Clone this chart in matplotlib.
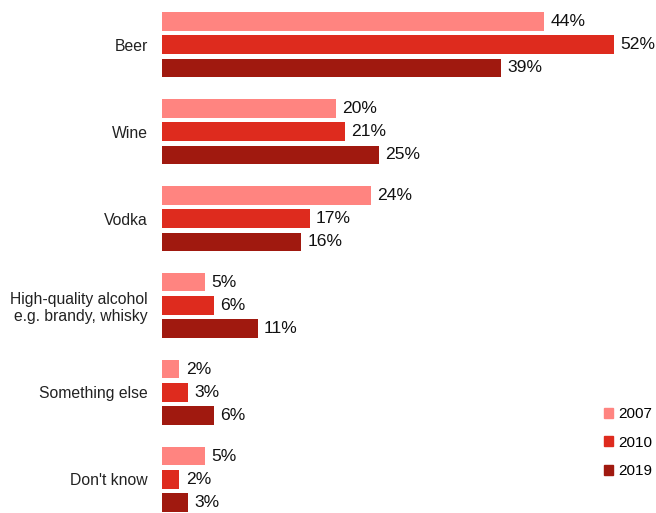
import numpy as np
import matplotlib.pyplot as plt
from matplotlib.patches import Patch

plt.rcParams['font.family'] = ['Liberation Sans', 'DejaVu Sans']

categories = ["Beer", "Wine", "Vodka", "High-quality alcohol\ne.g. brandy, whisky",
              "Something else", "Don't know"]
years = ["2007", "2010", "2019"]
v2007 = [44, 20, 24, 5, 2, 5]
v2010 = [52, 21, 17, 6, 3, 2]
v2019 = [39, 25, 16, 11, 6, 3]
colors = ["#FF8480", "#DE2B1E", "#A0190F"]

fig = plt.figure(figsize=(6.56, 5.13), dpi=100)
ax = fig.add_axes([162 / 656, 1 / 513, 452 / 656, 500 / 513])

gap = 3.73
centers = np.arange(len(categories)) * gap
for k, (vals, col) in enumerate(zip([v2007, v2010, v2019], colors)):
    ys = centers + (k - 1)
    ax.barh(ys, vals, height=0.8, color=col)
    for y, v in zip(ys, vals):
        ax.annotate(f"{v}%", (v, y), xytext=(4.5, 0), textcoords="offset points",
                    va="center", ha="left", fontsize=12.6, color="#111111",
                    annotation_clip=False)

ax.set_xlim(0, 52)
ax.set_ylim(centers[-1] + 1.4, -1.4)
ax.set_yticks(centers)
ax.set_yticklabels(categories, fontsize=11.3, color="#222222", multialignment="right")
ax.tick_params(axis="y", length=0, pad=10)
ax.set_xticks([])
for s in ax.spines.values():
    s.set_visible(False)

handles = [Patch(color=c, label=y) for c, y in zip(colors, years)]
fig.legend(handles=handles, loc="lower right", bbox_to_anchor=(0.995, 0.068),
           frameon=False, fontsize=11, handlelength=0.6, handleheight=0.6,
           handletextpad=0.35, labelspacing=0.95, borderpad=0, borderaxespad=0)

fig.savefig("out.png", dpi=100)
